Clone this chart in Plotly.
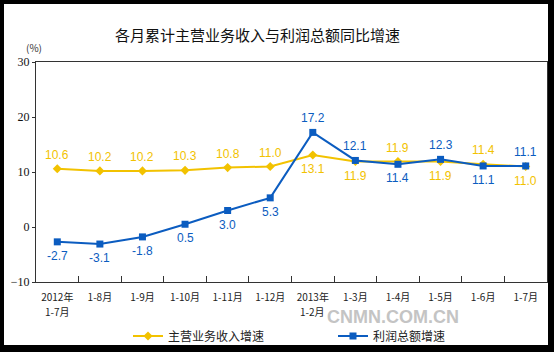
import plotly.graph_objects as go

categories = ["2012年<br>1-7月", "1-8月", "1-9月", "1-10月", "1-11月", "1-12月",
              "2013年<br>1-2月", "1-3月", "1-4月", "1-5月", "1-6月", "1-7月"]
revenue = [10.6, 10.2, 10.2, 10.3, 10.8, 11.0, 13.1, 11.9, 11.9, 11.9, 11.4, 11.0]
profit = [-2.7, -3.1, -1.8, 0.5, 3.0, 5.3, 17.2, 12.1, 11.4, 12.3, 11.1, 11.1]
revenue_label_pos = ["up"] * 6 + ["down", "down", "up", "down", "up", "down"]
profit_label_pos = ["down"] * 6 + ["up", "up", "down", "up", "down", "up"]
y_ticks = [-10, 0, 10, 20, 30]

YEL = "#F2C200"
BLUE = "#0B5CC0"
CJK = "Noto Sans CJK SC, sans-serif"

W, H = 554, 352
L, R, T, B = 36, 547, 62, 282

def px(x):
    return (x - L) / (R - L)

def py(y):
    return (B - y) / (B - T)

fig = go.Figure()
fig.add_trace(go.Scatter(
    x=categories, y=revenue, mode="lines+markers", name="主营业务收入增速",
    line=dict(color=YEL, width=2), marker=dict(symbol="diamond", size=7, color=YEL)))
fig.add_trace(go.Scatter(
    x=categories, y=profit, mode="lines+markers", name="利润总额增速",
    line=dict(color=BLUE, width=2), marker=dict(symbol="square", size=7, color=BLUE)))

anns = []
for c, v, p in zip(categories, revenue, revenue_label_pos):
    anns.append(dict(x=c, y=v, xref="x", yref="y", text=f"{v:.1f}", showarrow=False,
                     xanchor="center", yshift=14 if p == "up" else -14,
                     font=dict(family="Liberation Sans, Arial", size=12, color=YEL)))
for c, v, p in zip(categories, profit, profit_label_pos):
    anns.append(dict(x=c, y=v, xref="x", yref="y", text=f"{v:.1f}", showarrow=False,
                     xanchor="center", yshift=14 if p == "up" else -14,
                     font=dict(family="Liberation Sans, Arial", size=12, color=BLUE)))

# second lines of two-line category labels
tick_first = []
for c in categories:
    parts = c.split("<br>")
    tick_first.append(parts[0])
    if len(parts) > 1:
        anns.append(dict(x=c, y=py(311), xref="x", yref="paper", xanchor="center", yanchor="middle",
                         text=parts[1], showarrow=False,
                         font=dict(family=CJK, size=10, color="#222222")))

anns.append(dict(x=px(257), y=py(35), xref="paper", yref="paper", xanchor="center", yanchor="middle",
                 text="各月累计主营业务收入与利润总额同比增速", showarrow=False,
                 font=dict(family=CJK, size=15, color="#111111")))
anns.append(dict(x=px(34), y=py(48), xref="paper", yref="paper", xanchor="center", yanchor="middle",
                 text="(%)", showarrow=False, font=dict(family=CJK, size=10, color="#333333")))
anns.append(dict(x=px(393), y=py(317), xref="paper", yref="paper", xanchor="center", yanchor="middle",
                 text="CNMN.COM.CN", showarrow=False,
                 font=dict(family="Liberation Sans, Arial", size=18, color="#C4C4C4", weight="bold")))

shapes = [
    dict(type="rect", xref="paper", yref="paper", x0=px(4), x1=px(548), y0=py(4), y1=py(345),
         fillcolor="white", line=dict(width=0), layer="below"),
]

fig.update_layout(
    width=W, height=H,
    margin=dict(l=L, r=W - R, t=T, b=H - B, autoexpand=False),
    paper_bgcolor="black", plot_bgcolor="white",
    showlegend=True,
    legend=dict(orientation="h", x=px(128), y=py(336), xanchor="left", yanchor="middle",
                font=dict(family=CJK, size=12, color="#222222"),
                entrywidth=160, itemwidth=30, bgcolor="rgba(0,0,0,0)"),
    annotations=anns, shapes=shapes,
)
fig.update_xaxes(
    type="category", tickson="boundaries", ticks="inside", ticklen=6, tickcolor="#333333",
    showline=True, linecolor="#333333", mirror=True, showgrid=False, tickangle=0,
    tickvals=categories, ticktext=tick_first, ticklabelstandoff=6,
    tickfont=dict(family=CJK, size=10, color="#222222"), range=[-0.5, 11.5])
fig.update_yaxes(
    range=[-10, 30], tickvals=y_ticks, ticks="outside", ticklen=3, tickcolor="#333333",
    showline=True, linecolor="#333333", mirror=True, showgrid=False, zeroline=False,
    tickfont=dict(family="Liberation Serif, Times New Roman", size=12, color="#111111"))

fig.write_html("out.html")
